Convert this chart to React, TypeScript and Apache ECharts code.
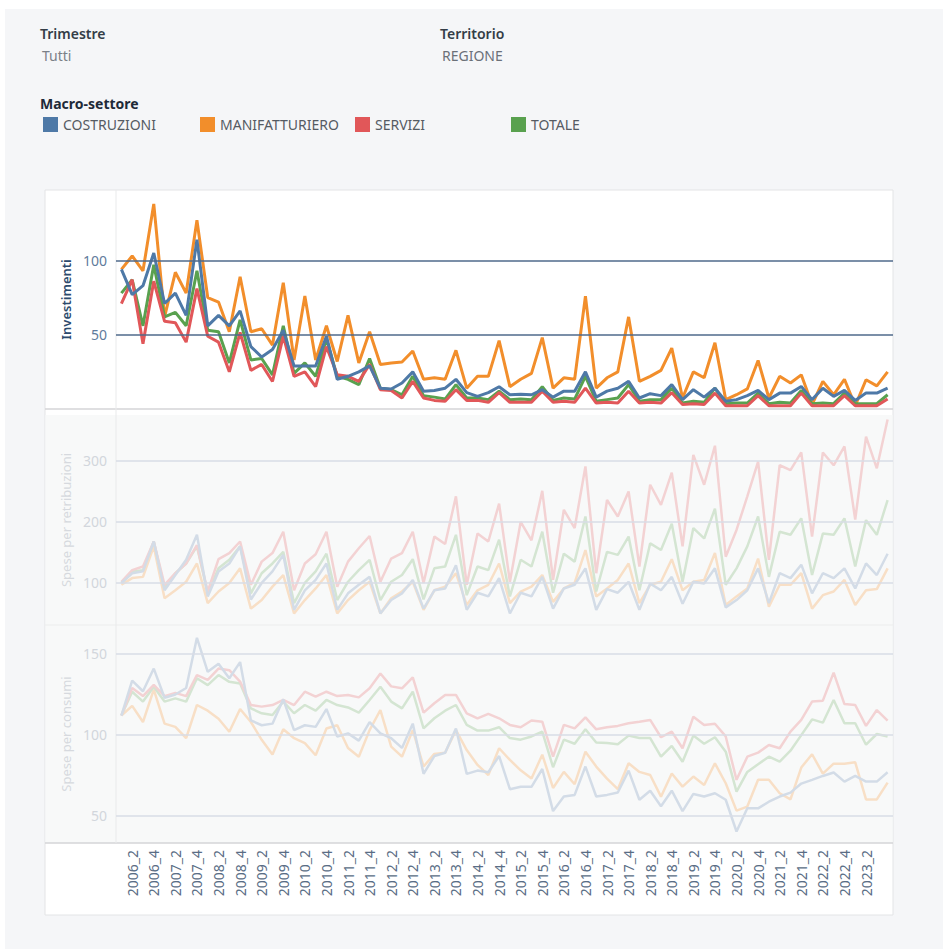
import React, { useEffect, useRef } from "react";
import * as echarts from "echarts";

const categories = [
  "2006_1","2006_2","2006_3","2006_4","2007_1","2007_2","2007_3","2007_4",
  "2008_1","2008_2","2008_3","2008_4","2009_1","2009_2","2009_3","2009_4",
  "2010_1","2010_2","2010_3","2010_4","2011_1","2011_2","2011_3","2011_4",
  "2012_1","2012_2","2012_3","2012_4","2013_1","2013_2","2013_3","2013_4",
  "2014_1","2014_2","2014_3","2014_4","2015_1","2015_2","2015_3","2015_4",
  "2016_1","2016_2","2016_3","2016_4","2017_1","2017_2","2017_3","2017_4",
  "2018_1","2018_2","2018_3","2018_4","2019_1","2019_2","2019_3","2019_4",
  "2020_1","2020_2","2020_3","2020_4","2021_1","2021_2","2021_3","2021_4",
  "2022_1","2022_2","2022_3","2022_4","2023_1","2023_2","2023_3","2023_4",
];

const sectorNames = ["COSTRUZIONI", "MANIFATTURIERO", "SERVIZI", "TOTALE"];
const sectorColors = ["#4e79a7", "#f28e2b", "#e15759", "#59a14f"];
const sectorFadedColors = ["#d3dce7", "#f8dfc6", "#f3d2d3", "#d4e5d2"];
const panelTitles = ["Investimenti", "Spese per retribuzioni", "Spese per consumi"];
const panel1Ticks = [50, 100];
const panel2Ticks = [100, 200, 300];
const panel3Ticks = [50, 100, 150];

// Investimenti
const investCostruzioni = [94,77,83,105,71,78,63,114,56,63,56,66,42,35,40,53,29,29,29,49,20,22,25,29,14,13.5,17.5,25,12,12.5,14,20,11,8.5,11,15,9.6,10,9.6,13,8,12,12,25,8,12,14,18.6,7.4,10.3,9,16.4,6.3,13,8,14,5.2,6.3,9,12.5,6.3,10.7,10.7,15.2,6.3,14,8.5,12.5,5.8,10.7,10.7,14];
const investManifatturiero = [94,103,93,138,62,92,78,127,75,72,52,89,52,54,43,85,33,76,33,56,32,63,31,52,30,31,31.6,39,20,21,20,39.5,14,22,22,46,15,20,24,48,14,21,20,76,14,21,25,62,18.6,22,26,41,7.4,25,21,44.6,6.3,9.6,13.5,32.7,7.4,22,17.5,23,3,18.6,9.6,20,2.2,19.7,15.6,25];
const investServizi = [71,87,44,86,59,58,45,81,49,45,25,51.5,26,30,18.5,49,22,25,15,42,23,22,18.6,30,13,12.5,7.4,18.6,7.4,5.8,5.2,13,5.8,5.8,4.5,11,4.5,4.5,4.5,12,4.5,5.2,4.5,14,4,4.5,4,12,4,4.5,4,11,3,3.6,3,10.7,2.2,2.2,2.2,9,2.2,2.2,2.2,10.7,2.2,2.2,2.2,9,2.2,2.2,2.2,6.7];
const investTotale = [78,87,56,97,62,65,56,93,53,52,31,60,33,34,23,56,24,31,22,47,22,20,16.4,34,14,13,9.6,22,9,8,6.7,16.4,7.4,7.4,6.3,12,6.3,6.7,6.3,15,5.8,7.4,6.7,22,5.2,6.3,7.4,16.4,5.2,6.3,6.3,14,4,5.2,4.5,14,3.6,4,4,10.7,3.6,4.5,4,12.5,3.6,4,3.6,10.7,3.6,3.6,3.6,9.6];

// Spese per retribuzioni
const retribCostruzioni = [100,116,119,168,88,113,138,179,78,119,132,160,73,100,119,146,56,88,105,132,56,83,97,110,50,72,83,105,58,88,91,129,56,84,78,108,50,84,78,110,58,91,97,124,56,90,84,102,56,99,88,110,66,102,99,124,60,72,88,124,67,116,108,130,83,116,108,124,91,132,113,148];
const retribManifatturiero = [97,108,110,160,75,88,102,132,67,86,100,124,58,72,94,113,50,72,91,113,50,72,88,102,50,75,86,102,56,88,94,116,64,88,97,132,67,86,94,113,69,91,100,154,78,91,105,132,67,97,102,139,88,102,105,149,64,78,91,140,61,97,97,116,58,80,86,105,64,88,90,124];
const retribServizi = [102,121,127,168,97,116,132,162,86,139,149,168,97,135,149,184,88,132,147,184,94,135,157,177,102,140,149,184,100,176,164,242,97,181,168,230,102,200,170,251,105,220,190,291,116,236,209,250,127,261,228,281,160,310,261,325,143,187,242,299,138,293,285,314,176,314,293,324,204,340,288,368];
const retribTotale = [100,119,121,168,91,116,132,160,83,124,138,160,83,116,132,151,67,100,119,148,72,102,121,138,72,102,113,139,73,124,127,179,80,127,121,171,78,138,127,184,84,148,135,209,86,151,146,176,88,165,154,197,102,190,173,222,97,124,160,209,110,184,179,206,113,181,179,206,127,203,179,236];

// Spese per consumi
const consumiCostruzioni = [112,133.5,127,141,123,125,129,160,139,144,135,145,109,106,107,122,103,106,105,116,99,101,96.5,108,101,98,92,107,76,87,89,104,76,78,77,87,66.5,68,68,79,53,62,63,80.5,62,63,64.5,78,60,65.6,56,65.6,53,63.6,62,64,60,40.4,54.7,54.7,58.8,62,64.4,70,72.3,74.7,76.8,71.2,74.7,71.2,71.2,77];
const consumiManifatturiero = [112,118,108,128,107,105,98,118.5,115,110,102,116,108,97,88,103.5,98,95,87.5,104,106,92,86.6,103,115.4,92.8,86.6,103,80.5,88.3,89.1,103,90.7,81.5,75.3,91.8,84.6,78.2,73.1,87.8,67.3,77.2,69.6,89.7,80.5,73.1,66.5,82.5,77.2,75.3,61.9,76.2,68.1,74.3,69.1,82.5,70.2,53.3,55.8,72.3,72.3,64,60.2,79.9,88.1,76.1,82.3,82.3,83.1,60.2,60.2,70.6];
const consumiServizi = [112,129,124,131,124,126,124,137,134,141,140,133,118.5,117.5,118.5,121.6,118.5,126.7,123.7,126.7,124,124.7,123.2,128.8,138,130,128.8,135.6,113.8,119.6,124.7,124.7,113.4,110.3,113,110.3,106.2,104.8,108.9,108.2,86.6,106.2,104.1,110.9,103.5,104.8,105.6,107.2,108.2,109.3,98.6,102.1,91.8,111.3,106.2,106.9,99.1,72.3,86.6,89.1,93.8,91.8,102.1,109.3,120.6,121.2,138.5,119.1,118.5,105.6,115.4,108.9];
const consumiTotale = [112,126.7,120.6,129.8,120.6,122.6,120.6,135,130.8,137,132.8,131.8,116.4,113.4,112.3,120.6,113.4,118.5,115,121.6,118.5,117,113.8,121.6,129.8,120.6,116.4,126.7,104.1,110.3,115,118.5,106.2,102.7,102.7,104.8,98.1,97.1,99.1,102.1,80.1,97.1,94.6,103.5,95.3,95,94.3,99.6,98.1,98.1,86.6,93.2,83.5,99.6,94.6,98.6,89.7,65,77.2,81.9,86.6,83.5,90.3,99.9,109.6,107.6,121.6,107.2,107.2,94,100.6,99.1];

const panelData = [
  [investCostruzioni, investManifatturiero, investServizi, investTotale],
  [retribCostruzioni, retribManifatturiero, retribServizi, retribTotale],
  [consumiCostruzioni, consumiManifatturiero, consumiServizi, consumiTotale],
];

const FONT = "Noto Sans";

export default function App() {
  const ref = useRef<HTMLDivElement>(null);
  useEffect(() => {
    const chart = echarts.init(ref.current!, null, { renderer: "svg" });

    const grids = [
      { left: 116, top: 190, width: 777, height: 219 },
      { left: 116, top: 415, width: 777, height: 210 },
      { left: 116, top: 625, width: 777, height: 218 },
    ];
    const yRanges = [
      [0, 147.4],
      [31.1, 375.4],
      [33.3, 167.9],
    ];
    const tickSets = [panel1Ticks, panel2Ticks, panel3Ticks];
    const labelColors = ["#5f7b9c", "#d2d6dc", "#d2d6dc"];
    const nameColors = ["#2c4a6c", "#d6d9de", "#d6d9de"];
    const gridLineColors = ["#4f6a8b", "#d9dce6", "#d9dce6"];
    const lastIndex = categories.length - 1;

    const xAxes = grids.map((_, k) => ({
      type: "category",
      gridIndex: k,
      data: categories,
      boundaryGap: true,
      axisLine: { show: false },
      axisTick: { show: false },
      splitLine: { show: false },
      axisLabel: {
        show: k === 2,
        rotate: 90,
        interval: (i: number) => i % 2 === 1 && i < lastIndex,
        color: "#5a6d85",
        fontFamily: FONT,
        fontSize: 14,
        margin: 7,
      },
    }));

    const yAxes = grids.map((_, k) => ({
      type: "value",
      gridIndex: k,
      min: yRanges[k][0],
      max: yRanges[k][1],
      name: panelTitles[k],
      nameLocation: "middle",
      nameGap: 44,
      nameTextStyle: {
        color: nameColors[k],
        fontFamily: FONT,
        fontSize: 13,
        fontWeight: k === 0 ? 600 : 400,
      },
      axisLine: { show: false },
      axisTick: { show: false, customValues: tickSets[k] },
      splitLine: { show: false },
      axisLabel: {
        customValues: tickSets[k],
        color: labelColors[k],
        fontFamily: FONT,
        fontSize: 14,
        margin: 9,
        formatter: (v: number) => (tickSets[k].indexOf(v) >= 0 ? String(v) : ""),
      },
    }));

    const series: any[] = [];
    grids.forEach((_, k) => {
      series.push({
        type: "line",
        name: "grid" + k,
        xAxisIndex: k,
        yAxisIndex: k,
        data: [],
        z: 1,
        silent: true,
        markLine: {
          silent: true,
          symbol: ["none", "none"],
          label: { show: false },
          lineStyle: { type: "solid", width: 1.5, color: gridLineColors[k] },
          data: tickSets[k].map((t) => ({ yAxis: t })),
        },
      });
    });

    const drawOrder = [1, 3, 2, 0];
    grids.forEach((_, k) => {
      drawOrder.forEach((s) => {
        const c = k === 0 ? sectorColors[s] : sectorFadedColors[s];
        series.push({
          type: "line",
          name: sectorNames[s],
          xAxisIndex: k,
          yAxisIndex: k,
          data: panelData[k][s],
          showSymbol: false,
          symbol: "none",
          z: k === 0 ? 3 : 2,
          color: sectorColors[s],
          itemStyle: { color: sectorColors[s] },
          lineStyle: { color: c, width: k === 0 ? 3 : 2.5 },
          emphasis: { disabled: true },
        });
      });
    });

    const legendLefts = [43, 200, 355, 511];
    const legends = sectorNames.map((n, i) => ({
      left: legendLefts[i],
      top: 117,
      padding: 0,
      itemWidth: 15,
      itemHeight: 15,
      icon: "rect",
      selectedMode: false,
      data: [n],
      textStyle: { color: "#555b63", fontFamily: FONT, fontSize: 14 },
    }));

    const graphic = [
      { type: "rect", z: -10, shape: { x: 5, y: 9, width: 938, height: 940 }, style: { fill: "#f5f6f8" } },
      { type: "rect", z: -9, shape: { x: 45, y: 190, width: 848, height: 725 }, style: { fill: "#ffffff", stroke: "#e3e4e6", lineWidth: 1 } },
      { type: "rect", z: -8, shape: { x: 45.5, y: 415, width: 847, height: 428 }, style: { fill: "#f8f9f9" } },
      { type: "line", z: -7, shape: { x1: 45, y1: 409, x2: 893, y2: 409 }, style: { stroke: "#d4d5d7", lineWidth: 1.5 } },
      { type: "line", z: -7, shape: { x1: 45, y1: 625, x2: 893, y2: 625 }, style: { stroke: "#eceded", lineWidth: 1 } },
      { type: "line", z: -7, shape: { x1: 45, y1: 843, x2: 893, y2: 843 }, style: { stroke: "#d4d5d7", lineWidth: 1.5 } },
      { type: "line", z: -7, shape: { x1: 116, y1: 190, x2: 116, y2: 843 }, style: { stroke: "#e9eaeb", lineWidth: 1 } },
      { type: "text", z: 5, x: 40, y: 33, style: { text: "Trimestre", fill: "#333d47", font: `600 14px '${FONT}'`, verticalAlign: "middle" } },
      { type: "text", z: 5, x: 42, y: 55, style: { text: "Tutti", fill: "#7b8088", font: `14px '${FONT}'`, verticalAlign: "middle" } },
      { type: "text", z: 5, x: 440, y: 33, style: { text: "Territorio", fill: "#333d47", font: `600 14px '${FONT}'`, verticalAlign: "middle" } },
      { type: "text", z: 5, x: 442, y: 55, style: { text: "REGIONE", fill: "#6b7078", font: `14px '${FONT}'`, verticalAlign: "middle" } },
      { type: "text", z: 5, x: 40, y: 103, style: { text: "Macro-settore", fill: "#1e2a38", font: `bold 14px '${FONT}'`, verticalAlign: "middle" } },
    ];

    chart.setOption({
      animation: false,
      grid: grids.map((g) => ({ ...g, containLabel: false })),
      xAxis: xAxes,
      yAxis: yAxes,
      legend: legends,
      graphic,
      series,
    } as any);

    return () => chart.dispose();
  }, []);

  return (
    <div
      ref={ref}
      style={{ position: "absolute", left: 0, top: 0, width: 943, height: 949, background: "#ffffff" }}
    />
  );
}
